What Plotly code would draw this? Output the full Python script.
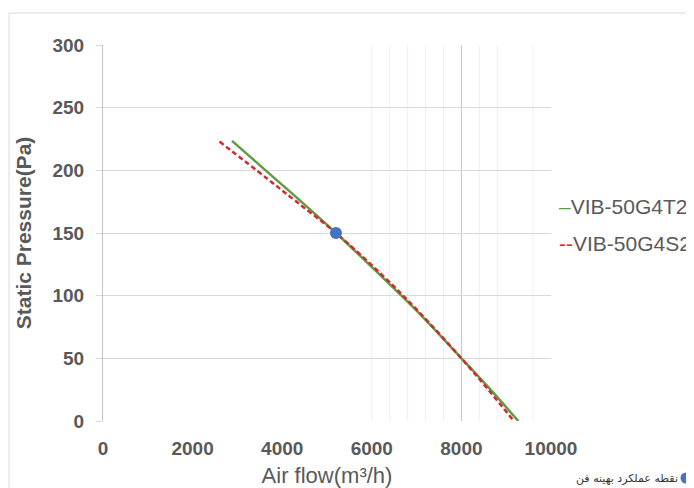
import plotly.graph_objects as go

# --- data ---
t2_flow = [2880, 3660, 4300, 5200, 6200, 7000, 8000, 8600, 9270]
t2_pressure = [223.5, 199, 179, 150, 116, 88, 50, 27, 0]

s2_flow = [2600, 3660, 4300, 5200, 6200, 7000, 8000, 8600, 9170]
s2_pressure = [223, 193.5, 175.5, 150, 117.5, 89, 50, 25, 0]

op_flow = [5200]
op_pressure = [150]

series_names = ["VIB-50G4T2", "VIB-50G4S2"]
point_label = "نقطه عملکرد بهینه فن"
x_ticks = [0, 2000, 4000, 6000, 8000, 10000]
y_ticks = [0, 50, 100, 150, 200, 250, 300]
minor_x_grid = [6000, 6400, 6800, 7200, 7600, 8400, 8800, 9600]

GREEN = "#5f9c42"
RED = "#d42a2f"
BLUE = "#4472c4"
GRAY = "#595959"
FONT = "Liberation Sans, Arial, sans-serif"

# the page body has an 8px margin, so the figure is drawn 8px in from the top-left
OFF = 8
W, H = 694 - OFF, 488 - OFF
L, T = 103 - OFF, 45 - OFF
R = W - (551 - OFF)
B = H - (421 - OFF)
pw, ph = W - L - R, H - T - B


def px(xp):
    """reference-screen x pixel -> paper fraction"""
    return (xp - OFF - L) / pw


def py(yp):
    """reference-screen y pixel -> paper fraction"""
    return (H - B - (yp - OFF)) / ph


fig = go.Figure()

fig.add_trace(go.Scatter(
    x=t2_flow, y=t2_pressure, mode="lines", name=series_names[0],
    line=dict(color=GREEN, width=2.5, shape="spline", smoothing=1),
    showlegend=False,
))
fig.add_trace(go.Scatter(
    x=s2_flow, y=s2_pressure, mode="lines", name=series_names[1],
    line=dict(color=RED, width=2.5, dash="5px,3px", shape="spline", smoothing=1),
    showlegend=False,
))
fig.add_trace(go.Scatter(
    x=op_flow, y=op_pressure, mode="markers", name=point_label,
    marker=dict(color=BLUE, size=12),
    showlegend=False,
))

shapes = []
# chart border
shapes.append(dict(type="rect", xref="paper", yref="paper",
                   x0=px(9), x1=px(691), y0=py(500), y1=py(13),
                   line=dict(color="#d9d9d9", width=1), layer="below"))
# faint minor vertical grid lines
for v in minor_x_grid:
    shapes.append(dict(type="line", xref="x", yref="y", x0=v, x1=v, y0=0, y1=300,
                       line=dict(color="#f0f0f0", width=1), layer="below"))
# darker vertical grid line at 8000
shapes.append(dict(type="line", xref="x", yref="y", x0=8000, x1=8000, y0=0, y1=300,
                   line=dict(color="#c4c4c4", width=1), layer="below"))
# legend dot for the operating point
shapes.append(dict(type="circle", xref="paper", yref="paper",
                   x0=px(680.5), x1=px(691.5), y0=py(483.5), y1=py(472.5),
                   fillcolor=BLUE, line=dict(color=BLUE, width=0)))

annotations = [
    dict(xref="paper", yref="paper", x=px(557), y=py(206), xanchor="left", yanchor="middle",
         showarrow=False,
         text=f"<span style='color:{GREEN}'>–</span>{series_names[0]}",
         font=dict(family=FONT, size=21, color=GRAY)),
    dict(xref="paper", yref="paper", x=px(557), y=py(243), xanchor="left", yanchor="middle",
         showarrow=False,
         text=f"<span style='color:{RED}'>--</span>{series_names[1]}",
         font=dict(family=FONT, size=21, color=GRAY)),
    dict(xref="paper", yref="paper", x=px(680), y=py(478), xanchor="right", yanchor="middle",
         showarrow=False, text=point_label,
         font=dict(family="DejaVu Sans, Noto Sans, sans-serif", size=11, color="#333333")),
]

fig.update_layout(
    width=W, height=H,
    margin=dict(l=L, r=R, t=T, b=B, autoexpand=False),
    paper_bgcolor="white", plot_bgcolor="white",
    font=dict(family=FONT, color=GRAY),
    shapes=shapes, annotations=annotations,
    showlegend=False,
)
fig.update_xaxes(
    range=[0, 10000], tickvals=x_ticks, ticktext=[f"<b>{v}</b>" for v in x_ticks],
    showgrid=False, zeroline=False, showline=False,
    ticks="", ticklabelstandoff=14,
    tickfont=dict(family=FONT, size=19, color=GRAY),
    title=dict(text="Air flow(m³/h)", font=dict(family=FONT, size=22, color=GRAY), standoff=10),
)
fig.update_yaxes(
    range=[0, 300], tickvals=y_ticks, ticktext=[f"<b>{v}</b>" for v in y_ticks],
    showgrid=True, gridcolor="#d9d9d9", gridwidth=1, zeroline=False,
    showline=True, linecolor="#c4c4c4", linewidth=1,
    ticks="outside", ticklen=6, tickcolor="#d9d9d9", ticklabelstandoff=8,
    tickfont=dict(family=FONT, size=19, color=GRAY),
    title=dict(text="<b>Static Pressure(Pa)</b>", font=dict(family=FONT, size=21, color=GRAY), standoff=15),
)

fig.write_html("out.html")
